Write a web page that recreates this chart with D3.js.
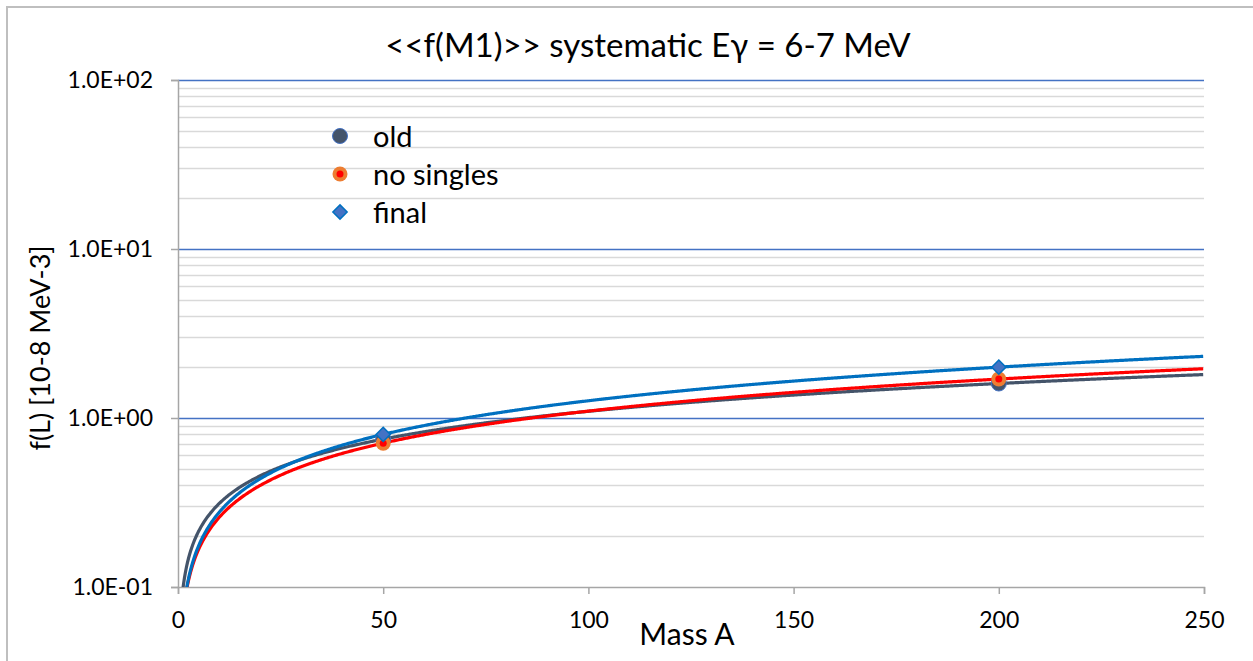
<!DOCTYPE html>
<html>
<head>
<meta charset="utf-8">
<script src="https://cdn.jsdelivr.net/npm/d3@7"></script>
<style>
  body { margin: 0; background: #fff; }
  svg text { font-family: Lato, 'Open Sans', sans-serif; fill: #000; }
</style>
</head>
<body>
<div id="chart"></div>
<script>
'use strict'

// values
const massA = [50, 200]
const oldVals = [0.75, 1.60]
const noSinglesVals = [0.71, 1.70]
const finalVals = [0.80, 2.00]
const seriesNames = ['old', 'no singles', 'final']
const xTicks = [0, 50, 100, 150, 200, 250]
const yTicks = [0.1, 1, 10, 100]
const yTickLabels = ['1.0E-01', '1.0E+00', '1.0E+01', '1.0E+02']

const width = 1253
const height = 661
const margin = { top: 80, right: 49, bottom: 74, left: 178 }
const innerW = width - margin.left - margin.right
const innerH = height - margin.top - margin.bottom

const svg = d3.select('#chart')
  .append('svg')
  .attr('width', width)
  .attr('height', height)

// chart border
svg.append('rect')
  .attr('x', 7).attr('y', 7)
  .attr('width', width).attr('height', height)
  .attr('fill', 'none')
  .attr('stroke', '#bfbfbf')
  .attr('stroke-width', 2)

const g = svg.append('g')
  .attr('transform', 'translate(' + margin.left + ',' + margin.top + ')')

const x = d3.scaleLinear().domain([0, 250]).range([0, innerW])
const y = d3.scaleLog().domain([0.1, 100]).range([innerH, 0])

// minor gridlines
const minor = []
yTicks.slice(0, -1).forEach(function(t) {
  for (let k = 2; k <= 9; k++) minor.push(t * k)
})
g.selectAll('.minor')
  .data(minor)
  .enter()
  .append('line')
  .attr('x1', 0).attr('x2', innerW)
  .attr('y1', d => Math.round(y(d)) + 0.5)
  .attr('y2', d => Math.round(y(d)) + 0.5)
  .attr('stroke', '#d9d9d9')
  .attr('stroke-width', 1.3)

// major gridlines
g.selectAll('.major')
  .data(yTicks.slice(1))
  .enter()
  .append('line')
  .attr('x1', 0).attr('x2', innerW)
  .attr('y1', d => Math.round(y(d)) + 0.5)
  .attr('y2', d => Math.round(y(d)) + 0.5)
  .attr('stroke', '#4472c4')
  .attr('stroke-width', 1.3)

// axes
const axisColor = '#a6a6a6'
const xAxis = g.append('g')
  .attr('transform', 'translate(0,' + innerH + ')')
  .call(d3.axisBottom(x).tickValues(xTicks).tickSize(7).tickPadding(18))
xAxis.select('.domain').attr('stroke', axisColor).attr('stroke-width', 1.5)
xAxis.selectAll('.tick line').attr('stroke', axisColor).attr('stroke-width', 1.5)
xAxis.selectAll('.tick text').attr('font-size', 23).attr('fill', '#000')

const yAxis = g.append('g')
  .call(d3.axisLeft(y).tickValues(yTicks)
    .tickFormat((d, i) => yTickLabels[i])
    .tickSize(7).tickPadding(18))
yAxis.select('.domain').attr('stroke', axisColor).attr('stroke-width', 1.5)
yAxis.selectAll('.tick line').attr('stroke', axisColor).attr('stroke-width', 1.5)
yAxis.selectAll('.tick text').attr('font-size', 23).attr('fill', '#000')

// power-law trendlines (least squares in log-log, like a spreadsheet trendline)
const powerFit = function(xs, ys) {
  const lx = xs.map(Math.log)
  const ly = ys.map(Math.log)
  const mx = d3.mean(lx)
  const my = d3.mean(ly)
  const b = d3.sum(lx, (v, i) => (v - mx) * (ly[i] - my)) / d3.sum(lx, v => (v - mx) * (v - mx))
  const a = Math.exp(my - b * mx)
  return A => a * Math.pow(A, b)
}

const series = [
  { name: seriesNames[0], vals: oldVals, line: '#44546a' },
  { name: seriesNames[1], vals: noSinglesVals, line: '#ff0000' },
  { name: seriesNames[2], vals: finalVals, line: '#0070c0' }
]

svg.append('clipPath').attr('id', 'plot-clip')
  .append('rect')
  .attr('x', 0).attr('y', 0)
  .attr('width', innerW).attr('height', innerH)

const samples = d3.range(0.3, 250.01, 0.25)
const line = d3.line()
  .x(d => x(d[0]))
  .y(d => y(d[1]))

series.forEach(function(s) {
  const f = powerFit(massA, s.vals)
  g.append('path')
    .attr('clip-path', 'url(#plot-clip)')
    .attr('d', line(samples.map(A => [A, f(A)])))
    .attr('fill', 'none')
    .attr('stroke', s.line)
    .attr('stroke-width', 3.2)
})

// markers
const drawMarker = function(sel, i) {
  if (i === 0) {
    sel.append('circle').attr('r', 7.5)
      .attr('fill', '#44546a').attr('stroke', '#4472c4').attr('stroke-width', 1)
  } else if (i === 1) {
    sel.append('circle').attr('r', 7.5).attr('fill', '#ed7d31')
    sel.append('circle').attr('r', 3.5).attr('fill', '#ff0000')
  } else {
    sel.append('path')
      .attr('d', d3.symbol().type(d3.symbolDiamond2).size(130)())
      .attr('fill', '#4472c4').attr('stroke', '#0070c0').attr('stroke-width', 1.5)
  }
}

series.forEach(function(s, i) {
  g.selectAll('.pt' + i)
    .data(massA.map((A, j) => [A, s.vals[j]]))
    .enter()
    .append('g')
    .attr('transform', d => 'translate(' + x(d[0]) + ',' + y(d[1]) + ')')
    .each(function() { drawMarker(d3.select(this), i) })
})

// legend
const legend = svg.append('g').attr('transform', 'translate(340,136)')
series.forEach(function(s, i) {
  const row = legend.append('g').attr('transform', 'translate(0,' + (i * 38) + ')')
  drawMarker(row, i)
  row.append('text')
    .attr('x', 33).attr('y', 1)
    .attr('dy', '0.35em')
    .attr('font-size', 29)
    .text(s.name)
})

// title and axis titles
svg.append('text')
  .attr('x', 648).attr('y', 57)
  .attr('text-anchor', 'middle')
  .attr('font-size', 33)
  .text('<<f(M1)>> systematic E\u03b3 = 6-7 MeV')

svg.append('text')
  .attr('x', 687).attr('y', 645)
  .attr('text-anchor', 'middle')
  .attr('font-size', 30)
  .text('Mass A')

svg.append('text')
  .attr('transform', 'translate(50,348) rotate(-90)')
  .attr('text-anchor', 'middle')
  .attr('font-size', 27)
  .text('f(L) [10-8 MeV-3]')
</script>
</body>
</html>
